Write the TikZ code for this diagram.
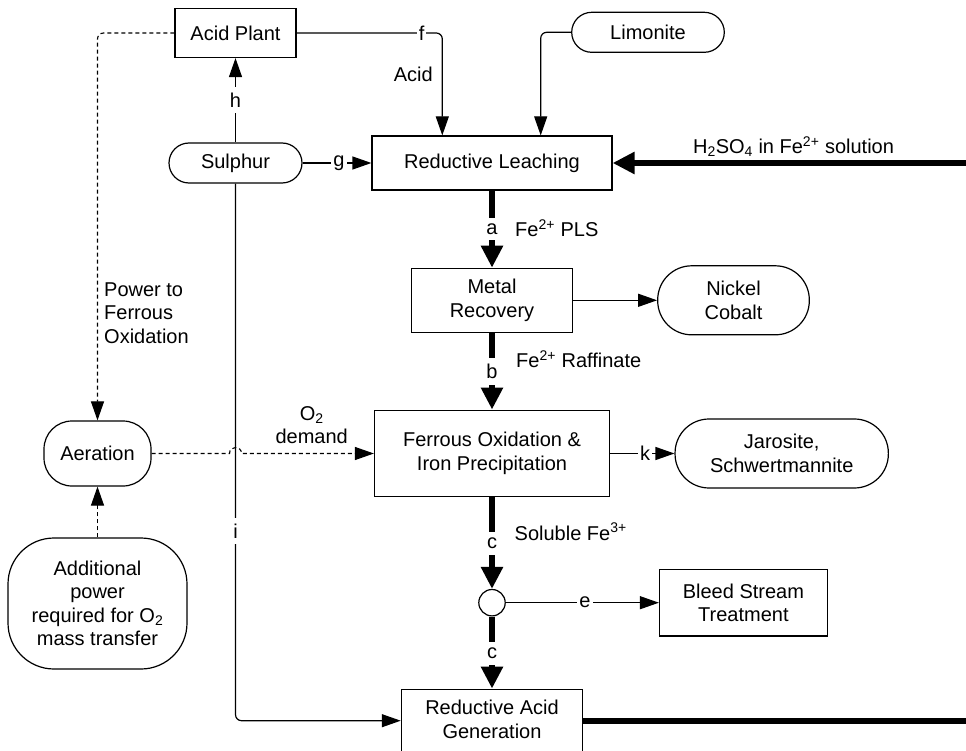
\documentclass[tikz,border=0pt]{standalone}
\usepackage{fontspec}
\setmainfont{Liberation Sans}
\usetikzlibrary{arrows.meta,calc}
\begin{document}
\begin{tikzpicture}[x=1pt,y=-1pt,
  every node/.style={font=\fontsize{20}{23.5}\selectfont, inner sep=0pt},
  procbox/.style={draw, line width=1.2pt, align=center},
  term/.style={draw, line width=1.2pt, align=center},
  thinarrow/.style={line width=1.2pt, -{Triangle[length=19pt,width=13pt]}},
  dasharrow/.style={line width=1.1pt, dash pattern=on 4pt off 3pt, -{Triangle[length=19pt,width=13pt]}},
  heavy/.style={line width=6pt, -{Triangle[length=22pt,width=21pt]}},
  heavyline/.style={line width=6pt},
  lbl/.style={fill=white, inner xsep=2pt, inner ysep=6pt}
]
\useasboundingbox (0,0) rectangle (966,751);
\clip (0,0) rectangle (966,751);

% nodes
\node[procbox, minimum width=121pt, minimum height=49pt] (acid) at (235.5,33) {Acid Plant};
\node[term, rounded corners=20pt, minimum width=152.6pt, minimum height=40pt] (lim) at (648,32.3) {Limonite};
\node[term, rounded corners=20pt, minimum width=133pt, minimum height=40pt] (sul) at (235.5,163) {Sulphur};
\node[procbox, minimum width=240pt, minimum height=54pt] (leach) at (492,163) {Reductive Leaching};
\node[procbox, minimum width=161.6pt, minimum height=64pt] (metal) at (492,300.3) {Metal\\Recovery};
\node[term, rounded corners=34pt, minimum width=151.6pt, minimum height=69pt] (nick) at (733.5,300.3) {Nickel\\Cobalt};
\node[term, rounded corners=28pt, minimum width=107pt, minimum height=65pt] (aer) at (97.5,453.5) {Aeration};
\node[procbox, minimum width=235pt, minimum height=86.7pt] (ferr) at (492,453.5) {Ferrous Oxidation \&\\Iron Precipitation};
\node[term, rounded corners=34pt, minimum width=213.3pt, minimum height=69pt] (jar) at (781.7,453.5) {Jarosite,\\Schwertmannite};
\node[term, rounded corners=46pt, minimum width=179pt, minimum height=131pt] (add) at (97.5,603.5) {Additional\\power\\required for O\textsubscript{2}\\mass transfer};
\node[circle, draw, line width=1.2pt, minimum size=26.4pt] (junc) at (492,602.7) {};
\node[procbox, minimum width=167.8pt, minimum height=66.7pt] (bleed) at (743.4,602.7) {Bleed Stream\\Treatment};
\node[draw, line width=1.2pt, minimum width=181.3pt, minimum height=63pt] (rag) at (492,720.7) {};
\node[align=center] (ragtext) at (492,719.2) {Reductive Acid\\Generation};

\coordinate (rb) at (990,720.7);
\coordinate (rt) at (990,163);

% thin connectors
\draw[thinarrow, rounded corners=6pt] (acid.east) -| ([xshift=-49.7pt]leach.north);
\draw[thinarrow, rounded corners=6pt] (lim.west) -| ([xshift=48.7pt]leach.north);
\draw[thinarrow] (sul.north) -- (acid.south);
\draw[thinarrow] (sul.east) -- (leach.west);
\draw[thinarrow, rounded corners=6pt] (sul.south) |- (rag.west);
\draw[thinarrow] (metal.east) -- (nick.west);
\draw[thinarrow] (ferr.east) -- (jar.west);
\draw[thinarrow] (junc.east) -- (bleed.west);

% dashed connectors
\draw[dasharrow, rounded corners=6pt] (acid.west) -| (aer.north);
\draw[dasharrow] (add.north) -- (aer.south);
\draw[dasharrow] (aer.east) -- ([xshift=-6pt]sul.south |- aer.east)
  .. controls +(0,-8) and +(0,-8) .. ([xshift=6pt]sul.south |- aer.east) -- (ferr.west);

% heavy flows
\draw[heavy] (leach.south) -- (metal.north);
\draw[heavy] (metal.south) -- (ferr.north);
\draw[heavy] (ferr.south) -- (junc.north);
\draw[heavy] (junc.south) -- (rag.north);
\draw[heavy] (rag.east) -- (rb) -- (rt) -- (leach.east);

% stream letters
\node[lbl] (lf) at (421.7,33) {f};
\node[lbl] (lg) at (339,163) {g};
\node[lbl] (lh) at (235.5,100) {h};
\node[lbl] (li) at (235.5,531) {i};
\node[lbl] (lk) at (645,453.5) {k};
\node[lbl] (le) at (585,602.7) {e};
\node[lbl] (la) at (492,229) {a};
\node[lbl] (lb) at (492,371.7) {b};
\node[lbl] (lc1) at (492,543.3) {c};
\node[lbl] (lc2) at (492,653.3) {c};

% text labels
\node[anchor=east] (acidlbl) at (433,74) {Acid};
\node (h2so4) at (793.5,146.7) {H\textsubscript{2}SO\textsubscript{4} in Fe\textsuperscript{2+} solution};
\node[anchor=west] (pls) at (515,228.3) {Fe\textsuperscript{2+} PLS};
\node[anchor=west] (raff) at (516,359.3) {Fe\textsuperscript{2+} Raffinate};
\node[anchor=west] (sol) at (514.5,531.7) {Soluble Fe\textsuperscript{3+}};
\node[anchor=west, align=left] (pow) at (104,313) {Power to\\Ferrous\\Oxidation};
\node[align=center] (o2) at (311.7,425) {O\textsubscript{2}\\demand};
\end{tikzpicture}
\end{document}
